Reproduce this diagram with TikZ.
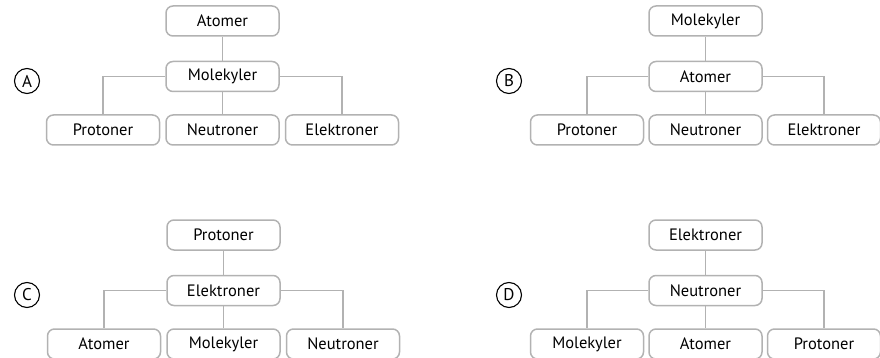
\documentclass[tikz,border=0pt]{standalone}
\usepackage{fontspec}
\setmainfont{PT Sans}
\usetikzlibrary{positioning}

\begin{document}
\begin{tikzpicture}[x=1pt, y=-1pt, font=\fontsize{16.5}{19}\selectfont,
  node distance=24pt and 5pt,
  box/.style={draw=gray!60, line width=1.5pt, rounded corners=7pt,
    minimum width=113pt, minimum height=30pt, inner sep=2pt, text=black},
  link/.style={draw=gray!60, line width=1.6pt},
  tag/.style={circle, draw=black, line width=1.1pt, minimum size=25pt,
    inner sep=0pt, font=\fontsize{17}{19}\selectfont}]
\useasboundingbox (0,0) rectangle (880,358);
% A
\node[tag] (tagA) at (27,81) {A};
\node[box] (topA) at (222.5,21) {Atomer};
\node[box, below=of topA] (midA) {Molekyler};
\node[box, below=22pt of midA] (cA) {Neutroner};
\node[box, left=of cA] (lA) {Protoner};
\node[box, right=of cA] (rA) {Elektroner};
\draw[link] (topA) -- (midA);
\draw[link] (midA) -- (cA);
\draw[link] (midA.west) -| (lA.north);
\draw[link] (midA.east) -| (rA.north);
% B
\node[tag] (tagB) at (509,81) {B};
\node[box] (topB) at (705.5,21) {Molekyler};
\node[box, below=of topB] (midB) {Atomer};
\node[box, below=22pt of midB] (cB) {Neutroner};
\node[box, left=4pt of cB] (lB) {Protoner};
\node[box, right=4pt of cB] (rB) {Elektroner};
\draw[link] (topB) -- (midB);
\draw[link] (midB) -- (cB);
\draw[link] (midB.west) -| (lB.north);
\draw[link] (midB.east) -| (rB.north);
% C
\node[tag] (tagC) at (27,295) {C};
\node[box] (topC) at (223.5,235) {Protoner};
\node[box, below=of topC] (midC) {Elektroner};
\node[box, below=22pt of midC] (cC) {Molekyler};
\node[box, left=of cC] (lC) {Atomer};
\node[box, right=of cC] (rC) {Neutroner};
\draw[link] (topC) -- (midC);
\draw[link] (midC) -- (cC);
\draw[link] (midC.west) -| (lC.north);
\draw[link] (midC.east) -| (rC.north);
% D
\node[tag] (tagD) at (509,295) {D};
\node[box] (topD) at (705.5,235) {Elektroner};
\node[box, below=of topD] (midD) {Neutroner};
\node[box, below=22pt of midD] (cD) {Atomer};
\node[box, left=4pt of cD] (lD) {Molekyler};
\node[box, right=4pt of cD] (rD) {Protoner};
\draw[link] (topD) -- (midD);
\draw[link] (midD) -- (cD);
\draw[link] (midD.west) -| (lD.north);
\draw[link] (midD.east) -| (rD.north);
\end{tikzpicture}
\end{document}
